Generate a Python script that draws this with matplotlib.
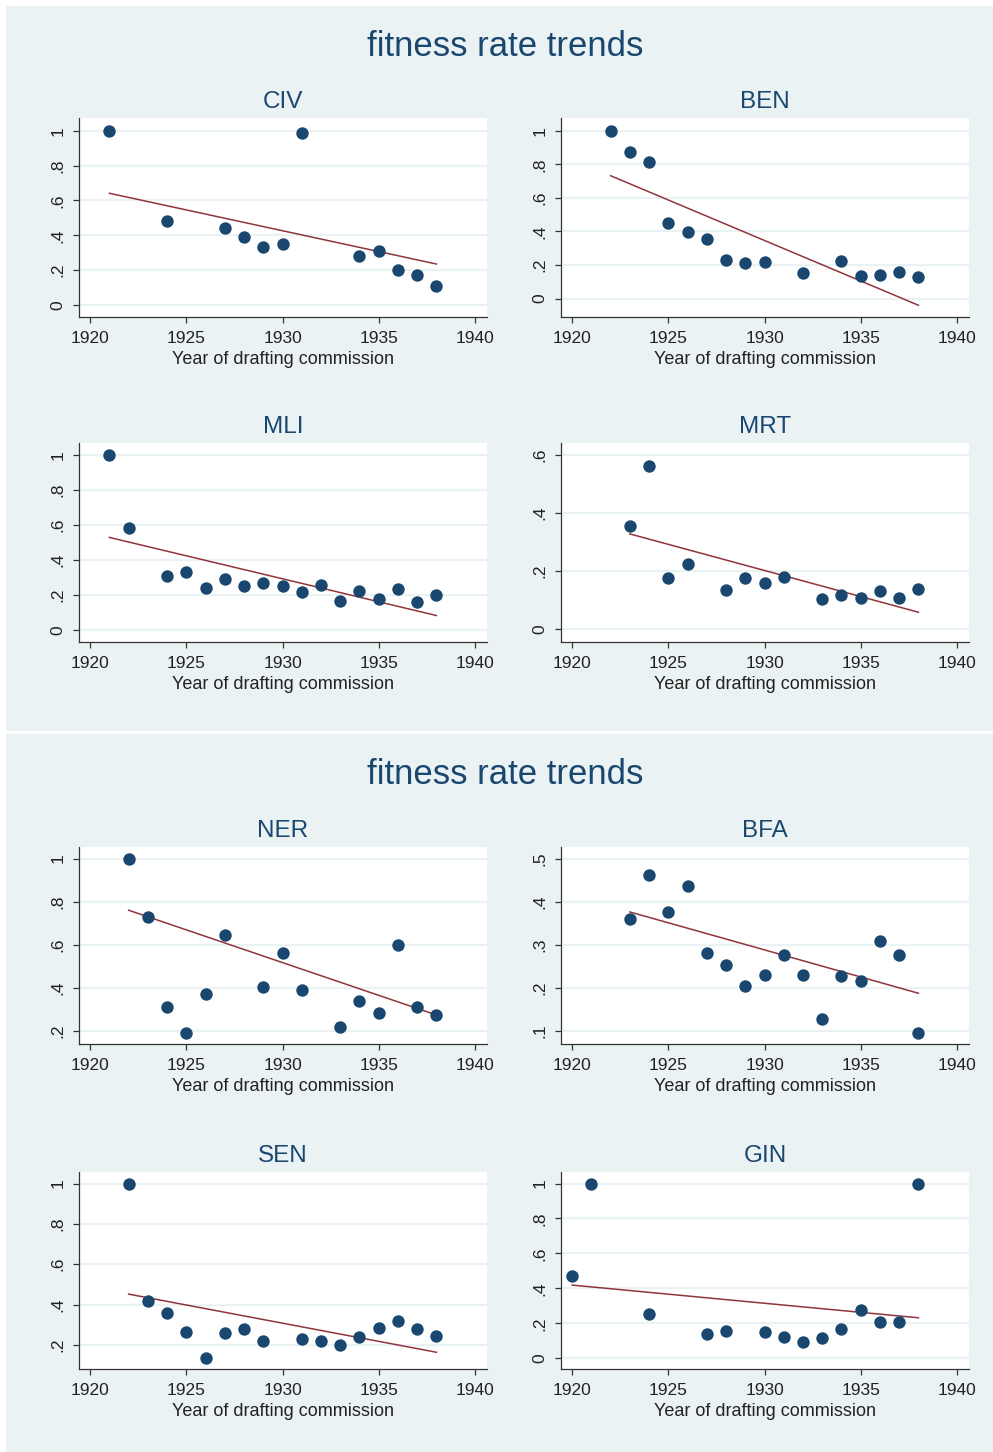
import matplotlib.pyplot as plt
from matplotlib.patches import Rectangle

# ─── Data ──────────────────────────────────────────────────────────
countries = ["CIV", "BEN", "MLI", "MRT", "NER", "BFA", "SEN", "GIN"]

civ_years = [1921, 1924, 1927, 1928, 1929, 1930, 1931, 1934, 1935, 1936, 1937, 1938]
civ_rate  = [1.0, 0.482, 0.44, 0.39, 0.335, 0.352, 0.988, 0.281, 0.308, 0.201, 0.174, 0.109]

ben_years = [1922, 1923, 1924, 1925, 1926, 1927, 1928, 1929, 1930, 1932, 1934, 1935, 1936, 1937, 1938]
ben_rate  = [1.0, 0.875, 0.811, 0.451, 0.394, 0.356, 0.229, 0.213, 0.217, 0.151, 0.225, 0.133, 0.143, 0.159, 0.131]

mli_years = [1921, 1922, 1924, 1925, 1926, 1927, 1928, 1929, 1930, 1931, 1932, 1933, 1934, 1935, 1936, 1937, 1938]
mli_rate  = [1.0, 0.581, 0.312, 0.33, 0.244, 0.293, 0.253, 0.269, 0.255, 0.219, 0.259, 0.168, 0.225, 0.179, 0.236, 0.162, 0.204]

mrt_years = [1923, 1924, 1925, 1926, 1928, 1929, 1930, 1931, 1933, 1934, 1935, 1936, 1937, 1938]
mrt_rate  = [0.357, 0.562, 0.176, 0.225, 0.135, 0.176, 0.158, 0.179, 0.103, 0.118, 0.109, 0.130, 0.109, 0.137]

ner_years = [1922, 1923, 1924, 1925, 1926, 1927, 1929, 1930, 1931, 1933, 1934, 1935, 1936, 1937, 1938]
ner_rate  = [1.0, 0.729, 0.308, 0.188, 0.369, 0.647, 0.403, 0.559, 0.390, 0.219, 0.339, 0.280, 0.599, 0.308, 0.273]

bfa_years = [1923, 1924, 1925, 1926, 1927, 1928, 1929, 1930, 1931, 1932, 1933, 1934, 1935, 1936, 1937, 1938]
bfa_rate  = [0.359, 0.461, 0.375, 0.437, 0.280, 0.252, 0.204, 0.229, 0.276, 0.229, 0.126, 0.227, 0.216, 0.309, 0.276, 0.094]

sen_years = [1922, 1923, 1924, 1925, 1926, 1927, 1928, 1929, 1931, 1932, 1933, 1934, 1935, 1936, 1937, 1938]
sen_rate  = [1.0, 0.418, 0.357, 0.263, 0.134, 0.258, 0.278, 0.221, 0.228, 0.220, 0.200, 0.241, 0.282, 0.320, 0.278, 0.245]

gin_years = [1920, 1921, 1924, 1927, 1928, 1930, 1931, 1932, 1933, 1934, 1935, 1936, 1937, 1938]
gin_rate  = [0.472, 1.0, 0.251, 0.139, 0.158, 0.152, 0.124, 0.091, 0.114, 0.166, 0.274, 0.206, 0.206, 1.0]

# fitted line value at first / last year of each country
fit_first = [0.641, 0.732, 0.530, 0.328, 0.760, 0.376, 0.452, 0.419]
fit_last  = [0.235, -0.040, 0.084, 0.0585, 0.273, 0.187, 0.164, 0.232]

years = [civ_years, ben_years, mli_years, mrt_years, ner_years, bfa_years, sen_years, gin_years]
rates = [civ_rate, ben_rate, mli_rate, mrt_rate, ner_rate, bfa_rate, sen_rate, gin_rate]

# y axis setup per panel
ylims = [(-0.069, 1.073), (-0.11, 1.076), (-0.067, 1.069), (-0.044, 0.641),
         (0.138, 1.054), (0.069, 0.527), (0.081, 1.057), (-0.061, 1.066)]
yticks = [[0, .2, .4, .6, .8, 1], [0, .2, .4, .6, .8, 1], [0, .2, .4, .6, .8, 1],
          [0, .2, .4, .6], [.2, .4, .6, .8, 1], [.1, .2, .3, .4, .5],
          [.2, .4, .6, .8, 1], [0, .2, .4, .6, .8, 1]]
# ────────────────────────────────────────────────────────────────────

W, H = 993, 1452
bg = "#EAF2F3"
navy = "#1A476F"
maroon = "#90353B"

plt.rc('font', family=['Liberation Sans', 'DejaVu Sans'])

fig = plt.figure(figsize=(W / 100, H / 100), dpi=100, facecolor="white")


def box(x0, y0, x1, y1):
    # pixel box (top-left origin) -> figure fraction rect
    return [x0 / W, 1 - y1 / H, (x1 - x0) / W, (y1 - y0) / H]


# panel backgrounds and titles
for top, bottom, ty in [(6, 731, 46), (734, 1452, 774)]:
    r = box(6, top, W, bottom)
    fig.patches.append(Rectangle((r[0], r[1]), r[2], r[3], transform=fig.transFigure,
                                 facecolor=bg, edgecolor="none", zorder=-10))
    fig.text(505.5 / W, 1 - ty / H, "fitness rate trends", ha="center",
             va="center", fontsize=25, color=navy)

cols = [(79, 487), (561, 969)]
rows = [(118, 317), (443, 642), (847, 1044), (1172, 1369)]


def fmt(v):
    if abs(v - round(v)) < 1e-9:
        return str(int(round(v)))
    return ("%.1f" % v).lstrip("0")


for i, name in enumerate(countries):
    c = cols[i % 2]
    r = rows[i // 2]
    ax = fig.add_axes(box(c[0], r[0], c[1], r[1]))
    ax.set_facecolor("white")
    ax.set_xlim(1919.42, 1940.63)
    ax.set_ylim(*ylims[i])
    ax.set_xticks([1920, 1925, 1930, 1935, 1940])
    ax.set_yticks(yticks[i])
    ax.set_yticklabels([fmt(v) for v in yticks[i]], rotation=90, va="center")
    ax.grid(axis="y", color=bg, linewidth=1.6, zorder=0)
    ax.set_axisbelow(True)
    for s in ["top", "right"]:
        ax.spines[s].set_visible(False)
    for s in ["left", "bottom"]:
        ax.spines[s].set_color("#333333")
        ax.spines[s].set_linewidth(0.9)
    ax.tick_params(axis="both", direction="out", length=4.5, width=0.9,
                   color="#333333", labelsize=12.5, labelcolor="#222222", pad=5.5)
    ax.tick_params(axis="y", pad=5)

    ax.scatter(years[i], rates[i], s=80, color=navy, zorder=3, linewidths=0)
    ax.plot([years[i][0], years[i][-1]], [fit_first[i], fit_last[i]],
            color=maroon, linewidth=1.1, zorder=2)

    ax.set_title(name, fontsize=17.5, color=navy, pad=7)
    ax.set_xlabel("Year of drafting commission", fontsize=13, color="#222222", labelpad=4)

fig.savefig("out.png", dpi=100, facecolor="white")
